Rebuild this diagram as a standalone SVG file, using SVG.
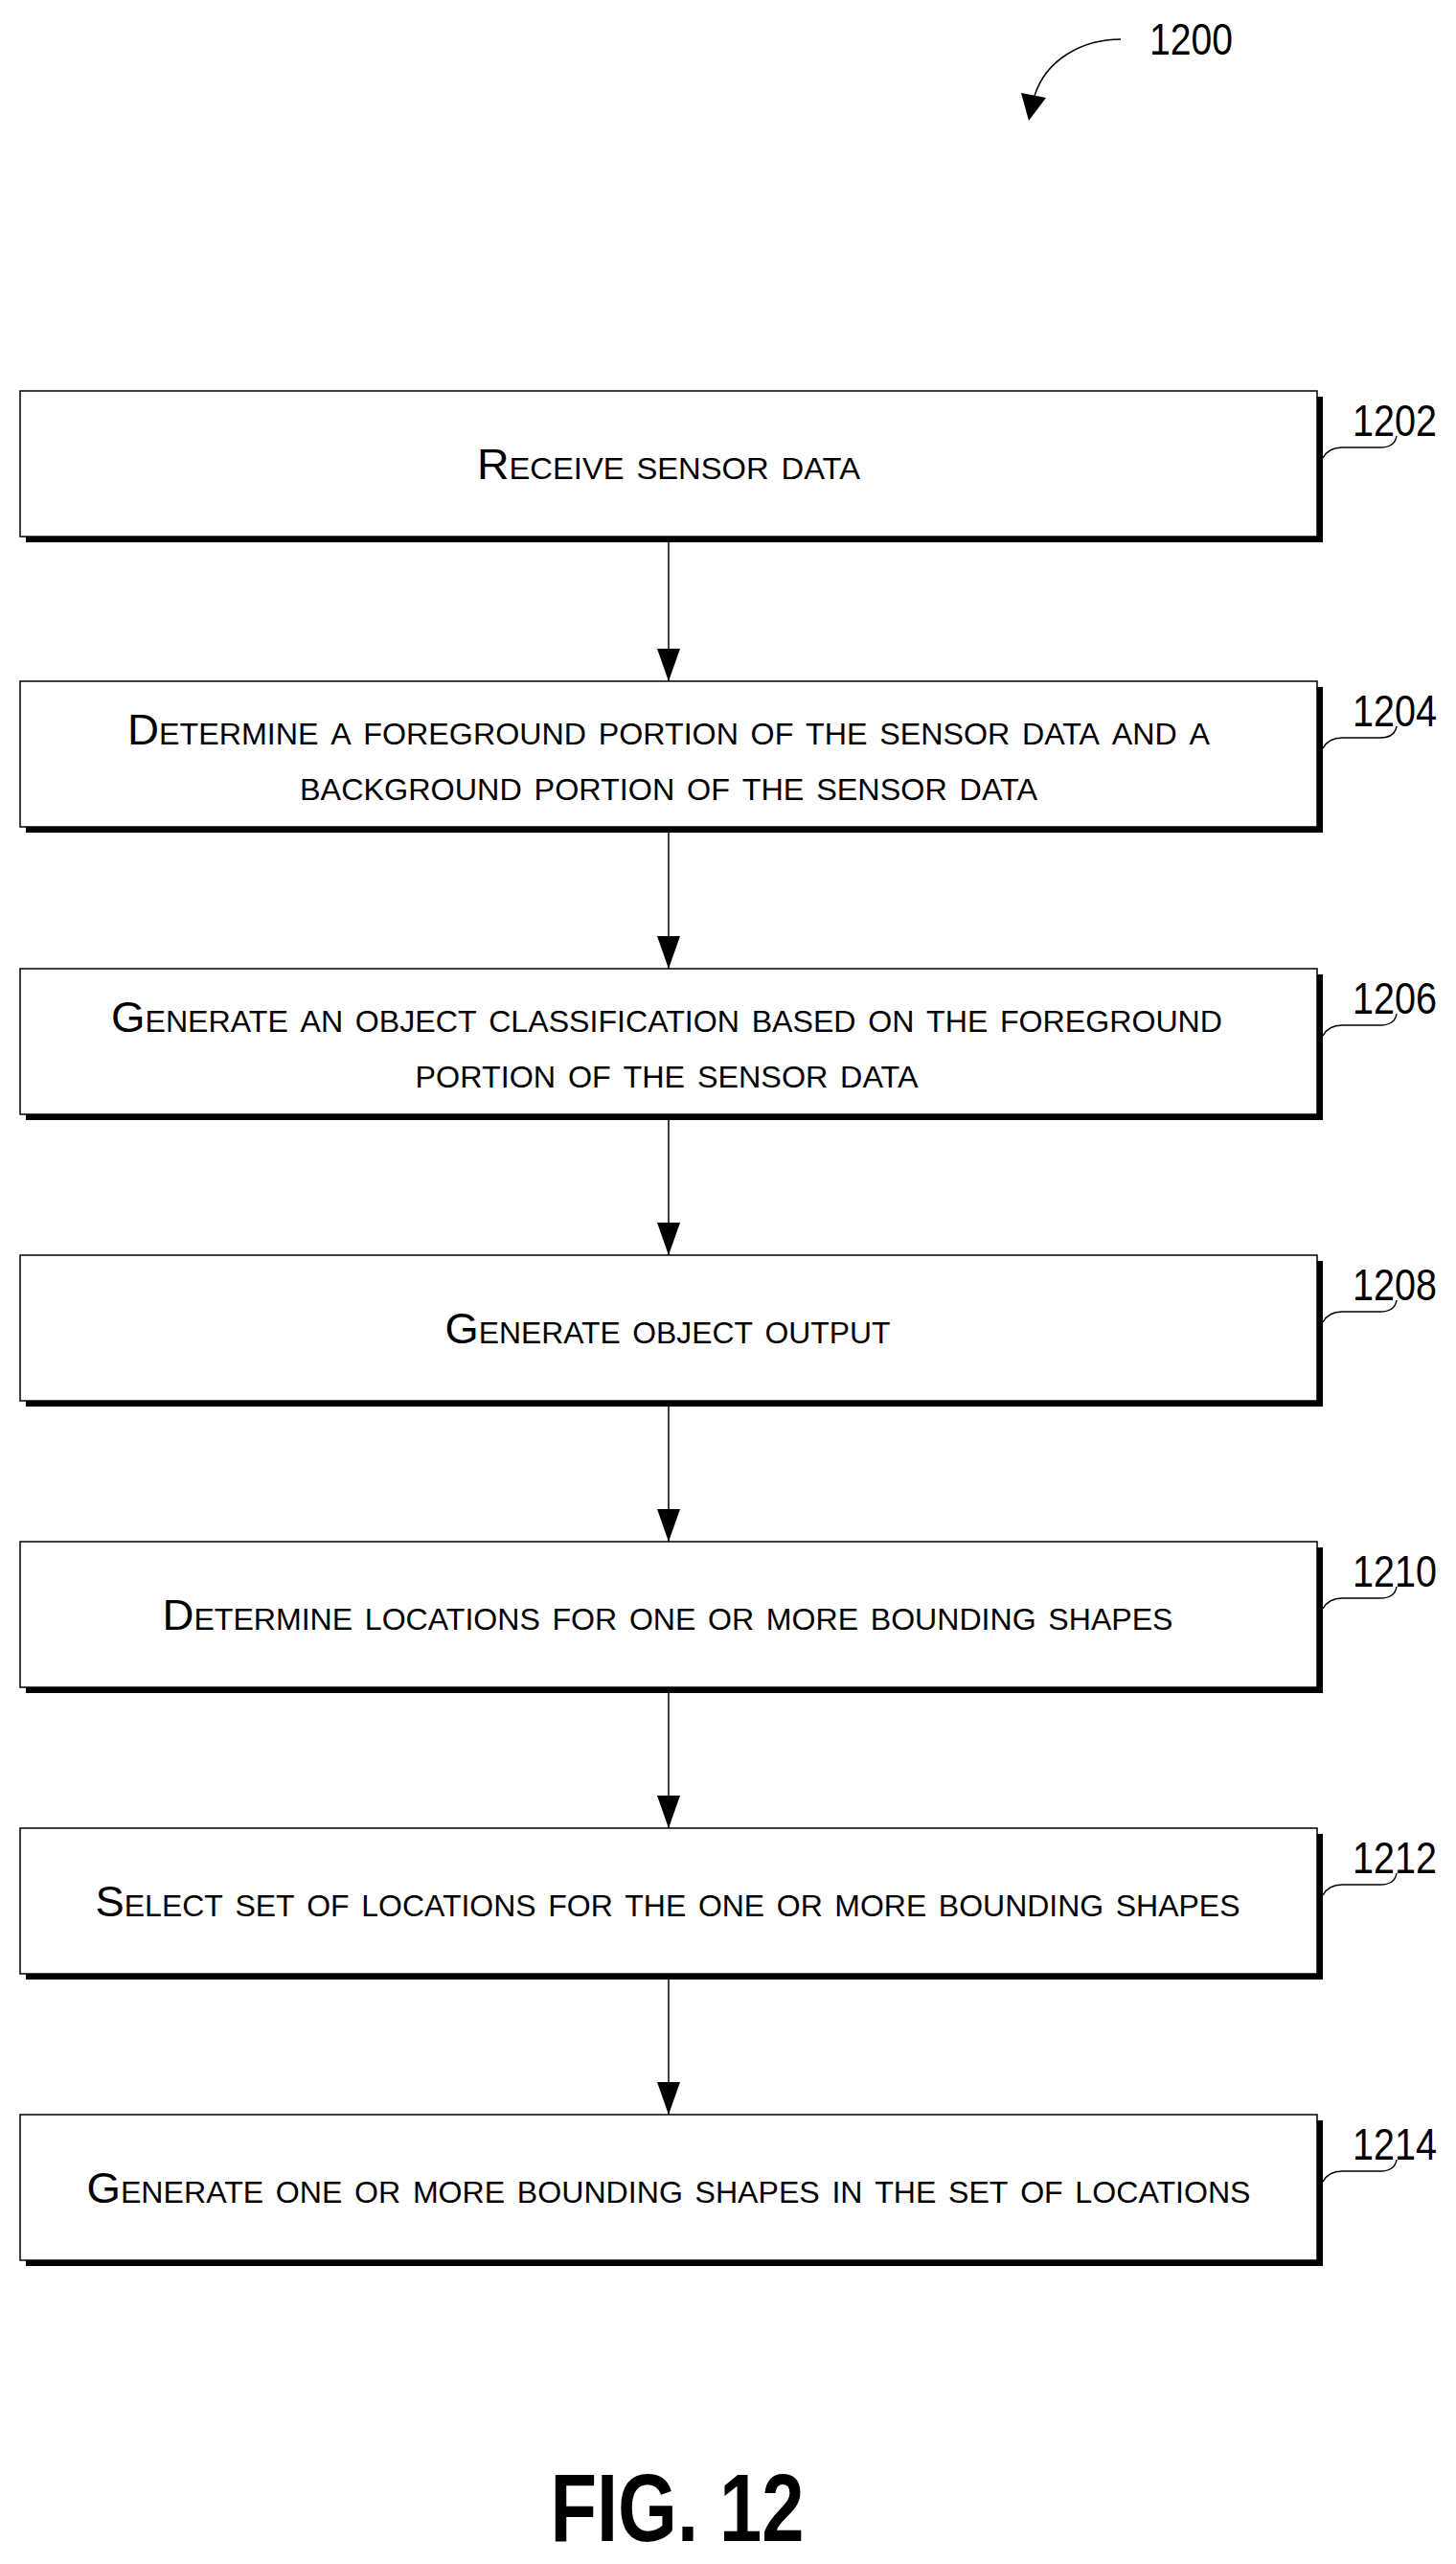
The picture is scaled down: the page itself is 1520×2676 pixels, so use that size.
<svg xmlns="http://www.w3.org/2000/svg" width="1520" height="2676" viewBox="0 0 1520 2676">
<style>
.sh{fill:#000}
.bx{fill:#fff;stroke:#000;stroke-width:1.5}
.t{font-family:"Liberation Sans",Arial,sans-serif;font-size:44px;font-variant:small-caps;text-anchor:middle;fill:#000}
.lb{font-family:"Liberation Sans",Arial,sans-serif;font-size:46px;fill:#000}
.ld{fill:none;stroke:#000;stroke-width:1.5}
.c{stroke:#000;stroke-width:1.5;fill:none}
</style>
<defs>
<marker id="dn" markerWidth="24" markerHeight="34" refX="12" refY="34" orient="0" markerUnits="userSpaceOnUse" viewBox="0 0 24 34">
<path d="M0,0 L24,0 L12,34 Z" fill="#000"/>
</marker>
</defs>
<g id="ref1200">
<text class="lb" x="1200" y="57" textLength="87" lengthAdjust="spacingAndGlyphs">1200</text>
<path d="M1170,41 C1130,41 1092,62 1080,100" class="c" stroke-width="4"/>
<path d="M1066,97 L1092,102 L1074,126 Z" fill="#000"/>
</g>
<g id="connectors">
<line class="c" x1="698" y1="566" x2="698" y2="711" marker-end="url(#dn)"/>
<line class="c" x1="698" y1="869" x2="698" y2="1011" marker-end="url(#dn)"/>
<line class="c" x1="698" y1="1169" x2="698" y2="1310" marker-end="url(#dn)"/>
<line class="c" x1="698" y1="1468" x2="698" y2="1609" marker-end="url(#dn)"/>
<line class="c" x1="698" y1="1767" x2="698" y2="1908" marker-end="url(#dn)"/>
<line class="c" x1="698" y1="2066" x2="698" y2="2207" marker-end="url(#dn)"/>
</g>
<g id="n1202">
<rect class="sh" x="27" y="414" width="1354" height="152"/>
<rect class="bx" x="21" y="408" width="1354" height="152"/>
<text class="t" x="698" y="500" textLength="400" lengthAdjust="spacingAndGlyphs">Receive sensor data</text>
<path class="ld" d="M1381,478 q6,-11 20,-11 h40 q15,0 17,-12"/>
<text class="lb" x="1412" y="455" textLength="88" lengthAdjust="spacingAndGlyphs">1202</text>
</g>
<g id="n1204">
<rect class="sh" x="27" y="717" width="1354" height="152"/>
<rect class="bx" x="21" y="711" width="1354" height="152"/>
<text class="t" x="698" y="777" textLength="1130" lengthAdjust="spacingAndGlyphs">Determine a foreground portion of the sensor data and a</text>
<text class="t" x="698" y="835" textLength="770" lengthAdjust="spacingAndGlyphs">background portion of the sensor data</text>
<path class="ld" d="M1381,781 q6,-11 20,-11 h40 q15,0 17,-12"/>
<text class="lb" x="1412" y="758" textLength="88" lengthAdjust="spacingAndGlyphs">1204</text>
</g>
<g id="n1206">
<rect class="sh" x="27" y="1017" width="1354" height="152"/>
<rect class="bx" x="21" y="1011" width="1354" height="152"/>
<text class="t" x="696" y="1077" textLength="1160" lengthAdjust="spacingAndGlyphs">Generate an object classification based on the foreground</text>
<text class="t" x="696" y="1135" textLength="525" lengthAdjust="spacingAndGlyphs">portion of the sensor data</text>
<path class="ld" d="M1381,1081 q6,-11 20,-11 h40 q15,0 17,-12"/>
<text class="lb" x="1412" y="1058" textLength="88" lengthAdjust="spacingAndGlyphs">1206</text>
</g>
<g id="n1208">
<rect class="sh" x="27" y="1316" width="1354" height="152"/>
<rect class="bx" x="21" y="1310" width="1354" height="152"/>
<text class="t" x="697" y="1402" textLength="465" lengthAdjust="spacingAndGlyphs">Generate object output</text>
<path class="ld" d="M1381,1380 q6,-11 20,-11 h40 q15,0 17,-12"/>
<text class="lb" x="1412" y="1357" textLength="88" lengthAdjust="spacingAndGlyphs">1208</text>
</g>
<g id="n1210">
<rect class="sh" x="27" y="1615" width="1354" height="152"/>
<rect class="bx" x="21" y="1609" width="1354" height="152"/>
<text class="t" x="697" y="1701" textLength="1055" lengthAdjust="spacingAndGlyphs">Determine locations for one or more bounding shapes</text>
<path class="ld" d="M1381,1679 q6,-11 20,-11 h40 q15,0 17,-12"/>
<text class="lb" x="1412" y="1656" textLength="88" lengthAdjust="spacingAndGlyphs">1210</text>
</g>
<g id="n1212">
<rect class="sh" x="27" y="1914" width="1354" height="152"/>
<rect class="bx" x="21" y="1908" width="1354" height="152"/>
<text class="t" x="697" y="2000" textLength="1195" lengthAdjust="spacingAndGlyphs">Select set of locations for the one or more bounding shapes</text>
<path class="ld" d="M1381,1978 q6,-11 20,-11 h40 q15,0 17,-12"/>
<text class="lb" x="1412" y="1955" textLength="88" lengthAdjust="spacingAndGlyphs">1212</text>
</g>
<g id="n1214">
<rect class="sh" x="27" y="2213" width="1354" height="152"/>
<rect class="bx" x="21" y="2207" width="1354" height="152"/>
<text class="t" x="698" y="2299" textLength="1215" lengthAdjust="spacingAndGlyphs">Generate one or more bounding shapes in the set of locations</text>
<path class="ld" d="M1381,2277 q6,-11 20,-11 h40 q15,0 17,-12"/>
<text class="lb" x="1412" y="2254" textLength="88" lengthAdjust="spacingAndGlyphs">1214</text>
</g>
<text x="707" y="2652" font-family="Liberation Sans,Arial,sans-serif" font-weight="bold" font-size="100" text-anchor="middle" textLength="265" lengthAdjust="spacingAndGlyphs">FIG. 12</text>
</svg>
